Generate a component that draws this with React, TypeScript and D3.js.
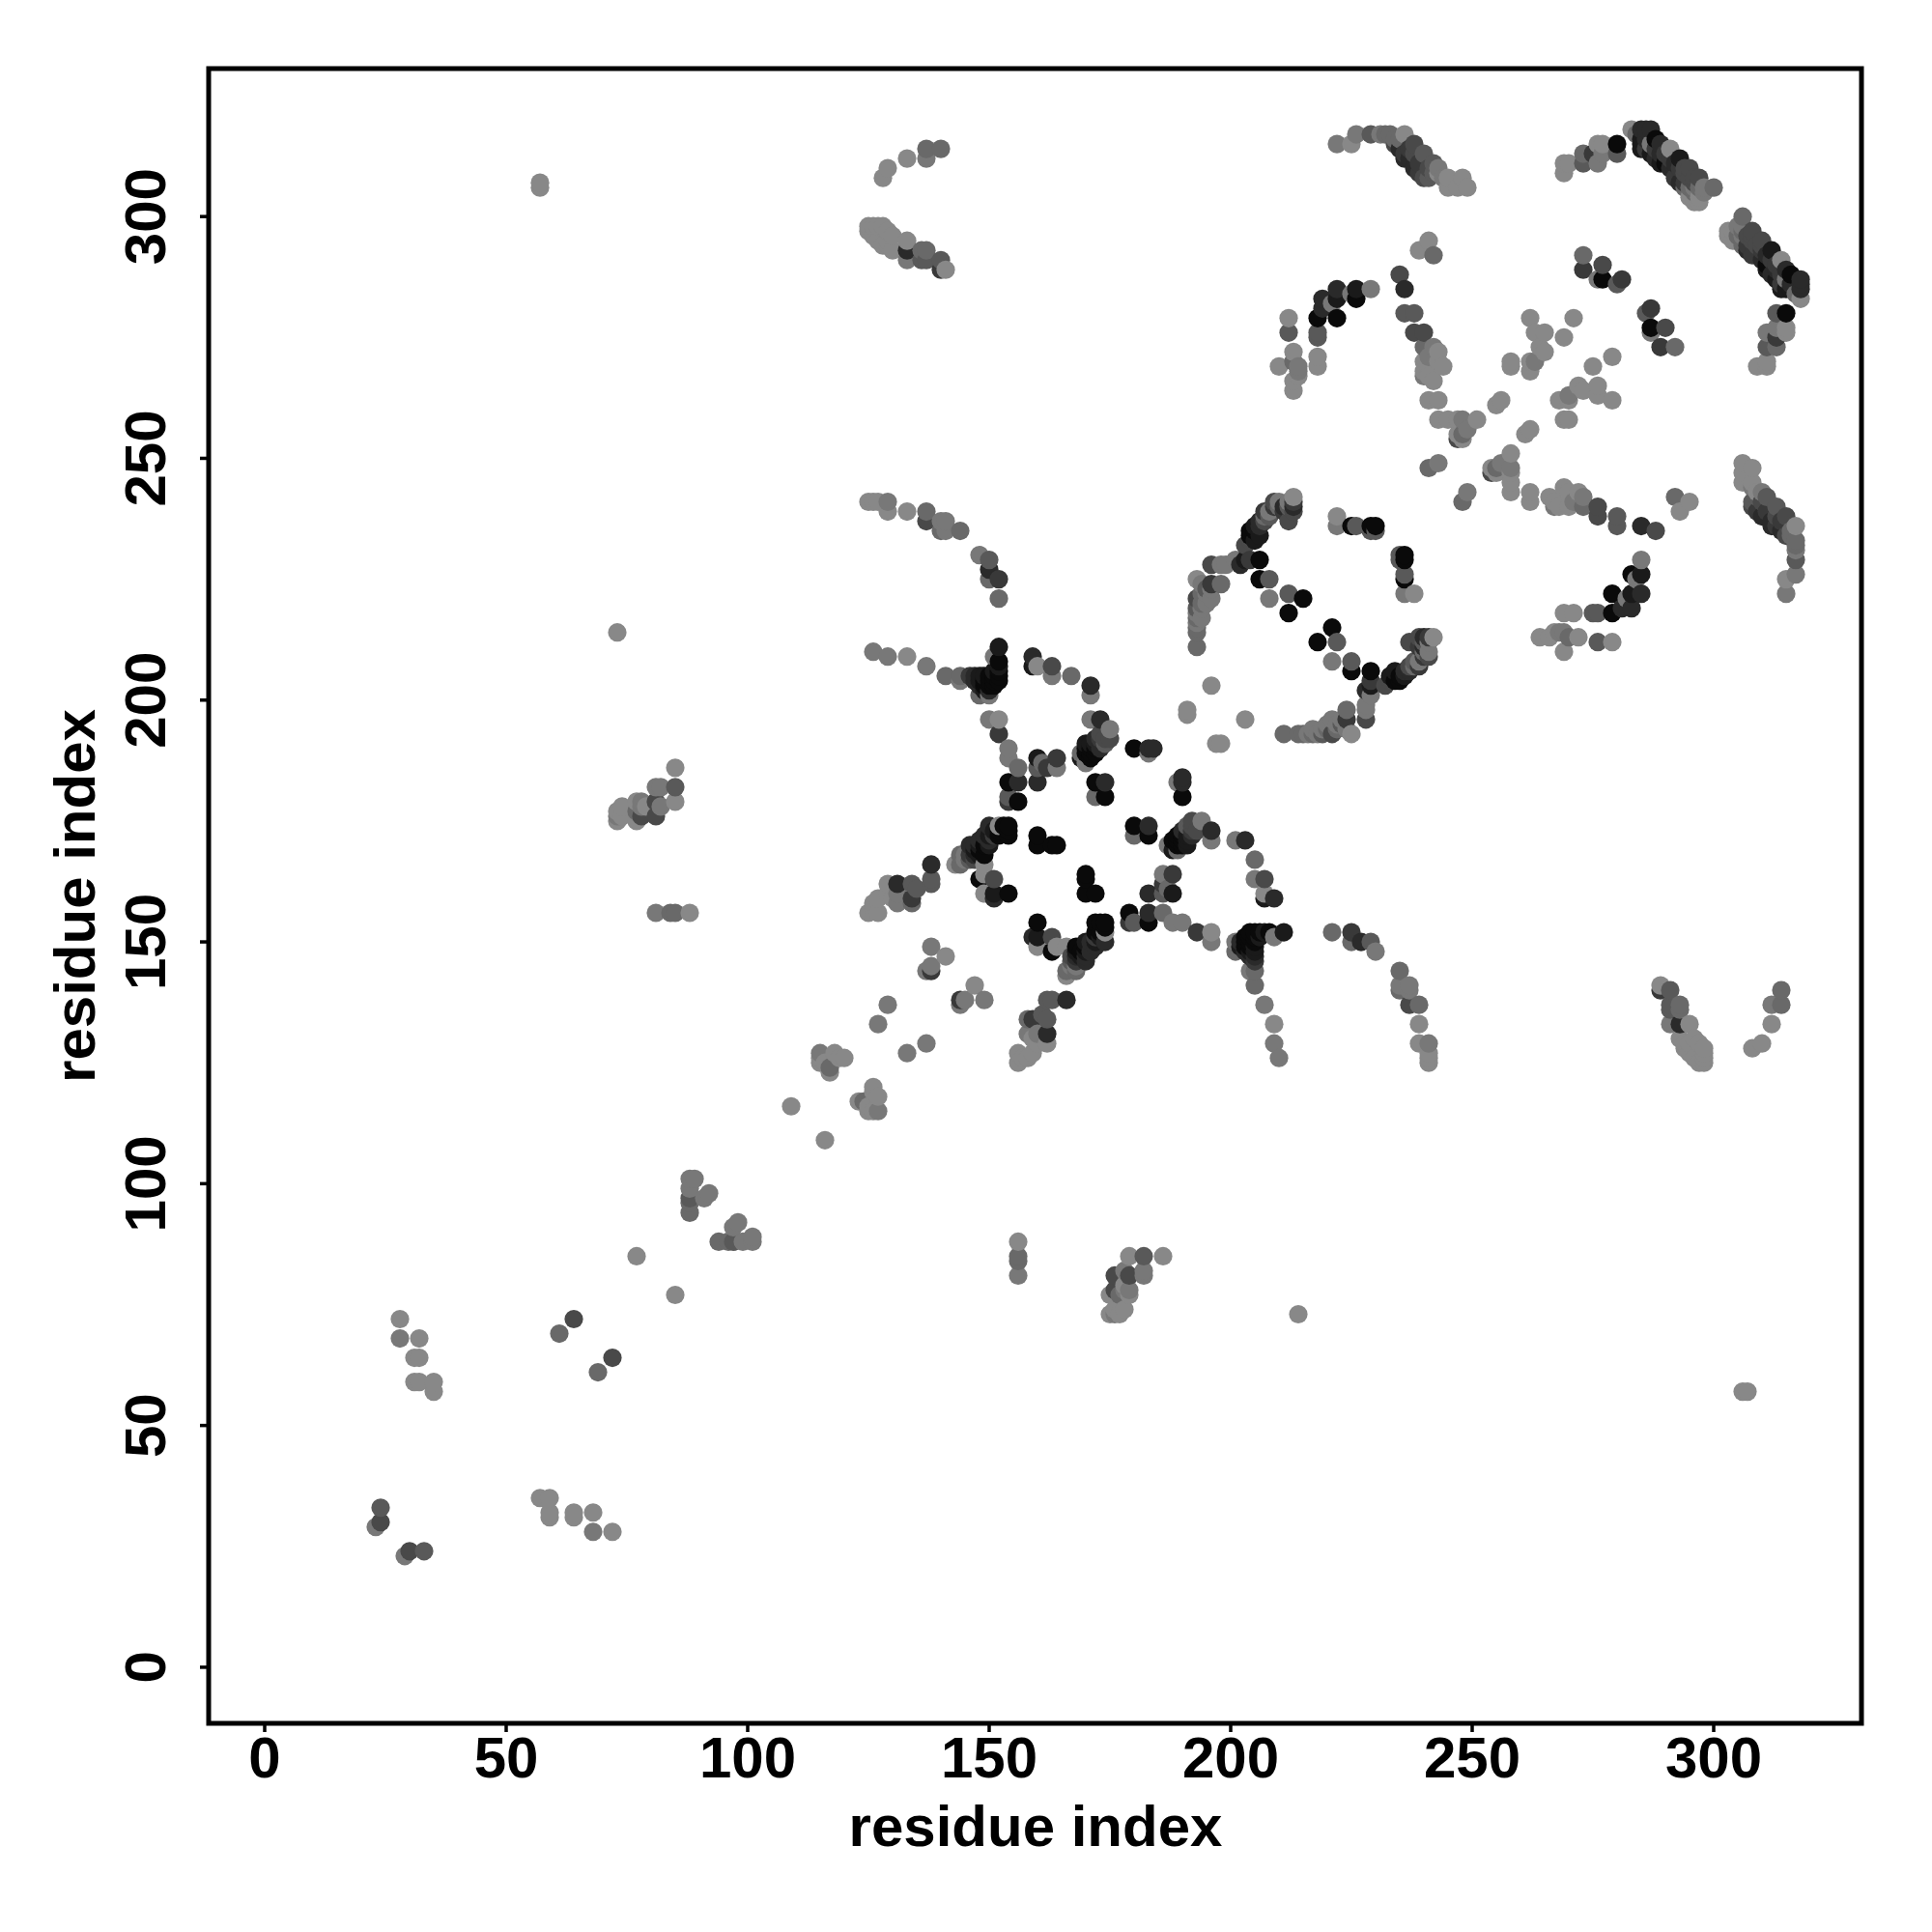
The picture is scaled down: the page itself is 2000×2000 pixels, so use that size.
import React from "react";
import * as d3 from "d3";

// Each contact is [residue i, residue j, strength 0..8]; the map is symmetric, drawn for (i,j) and (j,i).
const lowResidues = [
  [23,29,1],[24,30,4],[24,33,3],[28,68,1],[28,72,0],[31,59,0],[32,59,0],[31,64,0],[32,64,0],[32,68,0],[35,57,0],[35,59,0],
  [57,306,0],[57,307,0],[61,69,2],[64,72,4],[73,214,0],[77,85,0],
];
const clusterA = [
  [73,175,0],[73,176,1],[73,177,0],[74,176,0],[74,178,0],[77,175,0],[77,177,2],[77,179,0],[78,176,4],[78,178,1],[78,179,1],[79,178,0],
  [81,176,4],[81,179,4],[81,182,1],[82,178,1],[82,182,1],[85,179,0],[85,182,3],[85,186,0],
  [81,156,1],[84,156,2],[85,156,2],[88,156,0],
];
const diagonalLow = [
  [88,94,2],[88,96,2],[88,97,3],[88,99,1],[88,101,1],[89,101,1],[91,97,1],[92,98,1],
  [109,116,0],[115,125,0],[115,126,0],[115,127,1],[116,125,0],[117,123,0],[117,124,2],[118,127,0],[119,126,0],[120,126,0],
  [127,133,1],[129,137,1],
];
const clusterB = [
  [125,156,0],[126,157,0],[126,158,0],[127,156,0],[127,159,0],[129,160,0],[129,162,0],[130,159,0],[131,158,1],[131,160,1],[131,162,6],
  [134,158,2],[134,159,5],[134,162,3],[135,161,3],[138,162,3],[138,163,3],[138,166,6],
  [137,144,1],[138,144,5],[138,145,1],[138,149,1],[141,147,0],
];
const arcFar = [
  [128,308,0],[129,310,0],[133,312,0],[137,312,1],[137,314,2],[140,314,2],
  [125,297,0],[125,298,0],[126,296,0],[126,298,0],[127,295,0],[127,298,0],[128,294,0],[128,298,0],[129,294,0],[129,295,0],[129,297,0],[130,293,0],[130,296,0],
  [133,291,1],[133,293,6],[133,295,0],[136,291,3],[136,293,2],[137,291,3],[137,293,2],[140,289,5],[140,291,3],[141,289,0],
  [125,241,0],[126,241,0],[127,241,0],[129,239,0],[129,241,1],[133,239,0],[137,237,4],[137,239,2],[140,235,2],[140,237,1],[141,235,1],[141,237,1],
  [144,235,2],[148,230,1],[150,225,2],[150,227,6],[150,229,3],[152,225,5],[152,221,2],
  [126,210,1],[129,209,1],[133,209,0],
];
const clusterC = [
  [137,207,1],[141,205,2],[144,204,1],[144,205,2],[146,205,5],[147,204,6],[147,205,6],[148,201,2],[148,203,6],[148,204,7],[148,205,7],[149,202,7],[149,203,8],[149,204,8],[149,205,7],[150,201,1],[150,202,6],[150,203,8],[150,204,8],[150,205,8],
  [151,203,8],[151,204,8],[151,205,8],[151,206,7],[151,209,1],[152,204,8],[152,205,8],[152,206,8],[152,207,7],[152,208,8],[152,211,7],
  [159,207,7],[159,209,6],[160,207,0],[163,205,1],[163,207,4],[167,205,2],[171,201,1],[171,203,6],
  [150,196,1],[152,193,5],[152,196,0],[154,188,1],[154,190,1],[156,186,2],
  [154,179,5],[154,180,3],[154,183,8],[156,179,8],[156,183,6],
  [160,183,6],[160,186,3],[160,188,7],[161,187,2],[162,186,5],[164,186,1],[164,188,5],
  [169,188,7],[169,189,2],[170,187,1],[170,189,8],[170,190,8],[170,191,7],[171,188,8],[171,189,8],[171,190,8],[171,191,7],[172,189,8],[172,190,8],[172,191,7],[172,192,6],[173,190,6],[173,192,5],[173,193,4],[174,191,3],[174,192,4],[175,192,4],[175,194,1],[171,196,1],[173,196,6],
  [172,180,2],[172,183,8],[174,180,8],[174,183,6],[180,190,8],[183,189,1],[183,190,6],[184,190,6],
];
const clusterD = [
  [143,166,0],[144,166,2],[144,168,2],[145,167,1],[145,168,1],[146,167,3],[146,168,5],[146,170,6],[147,167,4],[147,168,6],[147,169,7],[147,170,6],[148,163,8],[148,168,7],[148,169,8],[148,170,7],[148,171,6],[149,160,0],[149,164,0],[149,166,0],[149,168,8],[149,170,8],[149,172,6],
  [150,170,7],[150,171,6],[150,172,7],[150,174,6],[151,159,6],[151,160,7],[151,163,4],[151,172,5],[151,173,7],[152,172,8],[152,173,8],[152,174,0],[153,174,8],[154,160,8],[154,172,8],[154,173,8],[154,174,8],
  [160,170,8],[160,172,8],[163,170,8],[164,170,8],
];
const arcMiddle = [
  [191,197,0],[191,198,0],[196,203,0],[193,211,2],[193,214,2],[193,215,2],[193,216,1],[193,217,2],[194,217,1],[193,218,1],[193,219,3],[194,219,1],[194,220,2],[193,221,4],[195,220,1],[196,221,1],[194,222,2],[195,222,1],[195,223,3],[193,225,0],[194,224,1],[196,223,1],[196,224,5],[198,224,2],
  [196,228,4],[198,228,1],[199,228,1],[201,229,1],[202,228,6],[203,229,7],[204,229,5],[206,229,8],[206,225,8],[208,225,3],
  [203,232,4],[204,233,4],[205,233,7],[204,234,8],[204,235,8],[205,235,8],[205,236,7],[206,234,7],[206,236,6],[206,237,6],[207,237,4],[207,238,2],[207,239,5],[208,238,3],[208,239,1],[209,240,5],[209,241,4],[210,240,2],[210,241,1],[211,239,5],[211,240,6],[212,237,4],[212,240,3],[212,241,1],[213,239,4],[213,240,6],[213,241,5],[213,242,0],
  [208,221,1],[212,222,3],[215,221,8],[212,218,8],
  [222,236,1],[222,238,0],[225,236,8],[226,236,3],[229,235,3],[229,236,8],[230,235,3],[230,236,8],
];
const arcUpper = [
  [222,315,1],[225,315,0],[226,317,1],[229,317,3],[231,317,1],[232,317,2],[233,317,2],[236,317,0],[234,316,2],[235,316,2],
  [234,315,4],[235,314,6],[236,312,6],[236,313,5],[237,312,6],[237,314,5],[238,310,6],[238,313,4],[238,315,4],[239,309,5],[239,311,5],[240,308,4],[240,313,3],[241,308,3],[241,310,4],[242,309,3],[242,311,3],[243,309,0],[243,310,1],[244,308,1],[245,306,0],[245,308,0],[247,306,0],[248,308,0],[249,306,0],
  [229,285,1],[226,283,8],[226,285,7],[225,284,1],[222,279,8],[222,283,7],[222,285,6],[221,282,1],[219,281,6],[219,283,6],[218,279,8],
  [218,275,3],[218,276,3],[218,269,0],[218,271,0],[212,276,3],[212,279,0],[213,272,0],[210,269,0],[214,269,1],[213,270,2],[214,268,1],[214,267,0],[213,266,0],[213,264,0],
  [235,288,4],[236,285,6],[236,280,3],[238,280,3],[238,276,4],[240,276,4],[239,293,0],[241,295,0],[242,292,2],
];
const helixCore = [
  [240,273,2],[240,270,0],[240,268,0],[240,267,1],[241,267,0],[241,271,1],[242,266,0],[242,273,1],[243,272,0],[243,270,0],[244,269,0],
  [241,262,0],[243,262,0],[243,258,0],[245,258,0],[247,258,0],[248,258,1],[251,258,0],[247,255,0],[247,254,4],[248,254,0],[249,256,1],[248,255,2],
  [241,248,2],[243,249,1],[255,261,0],[256,262,0],
  [262,279,0],[263,276,0],[265,276,0],[264,273,0],[265,272,0],[258,270,0],[258,269,0],[262,270,0],[262,268,0],[263,270,1],[271,279,0],[269,275,0],
];
const arcTop = [
  [269,309,0],[269,311,0],[270,311,0],[273,311,3],[273,313,2],[275,313,5],[276,311,1],[276,315,0],[277,313,1],[277,315,0],[280,313,3],[280,315,8],
  [283,318,0],[284,317,2],[285,314,7],[285,315,7],[285,316,7],[285,318,6],[286,314,5],[286,316,6],[286,318,6],[287,313,7],[287,315,1],[287,318,6],[288,312,6],[288,314,5],[288,316,8],
  [289,311,7],[289,313,6],[289,315,6],[290,311,8],[290,313,5],[291,310,6],[291,312,5],[291,314,0],[292,308,5],[292,311,6],[293,307,6],[293,310,5],[293,312,7],[294,306,2],[294,307,5],[294,309,4],[294,310,4],[295,304,0],[295,306,2],[295,308,4],[295,310,4],
  [296,303,0],[296,305,2],[296,306,1],[296,307,4],[296,308,4],[297,303,0],[297,304,0],[297,306,2],[297,308,4],[298,305,1],[298,306,1],[300,306,2],
  [273,289,5],[273,292,2],[276,287,1],[277,287,8],[277,290,4],[280,286,3],[281,287,5],
];

const contacts = [...lowResidues, ...clusterA, ...diagonalLow, ...clusterB, ...arcFar, ...clusterC, ...clusterD, ...arcMiddle, ...arcUpper, ...helixCore, ...arcTop];
const tickValues = [0, 50, 100, 150, 200, 250, 300];
const axisTitle = "residue index";

const points = contacts
  .flatMap(([i, j, w]) => [{ x: i, y: j, w }, { x: j, y: i, w }])
  .sort((a, b) => d3.ascending(a.x, b.x) || d3.ascending(a.y, b.y));

export default function App() {
  const x = d3.scaleLinear().domain([-11.6, 330.6]).range([216, 1927]);
  const y = d3.scaleLinear().domain([-11.6, 330.6]).range([1784, 71]);
  const gray = d3.scaleLinear<string>().domain([0, 8]).range(["#888888", "#0a0a0a"]);
  const font = { fontFamily: "'Liberation Sans', Arial, sans-serif", fontWeight: 700, fontSize: 60, fill: "#000" };
  return (
    <svg width={2000} height={2000} style={{ position: "absolute", left: 0, top: 0, display: "block", background: "#fff" }}>
      {points.map((p, k) => (
        <circle key={k} cx={x(p.x)} cy={y(p.y)} r={9.6} fill={gray(p.w)} />
      ))}
      <rect x={216} y={71} width={1711} height={1713} fill="none" stroke="#000" strokeWidth={5} />
      {tickValues.map((t) => (
        <g key={t}>
          <line x1={x(t)} x2={x(t)} y1={1786} y2={1793} stroke="#000" strokeWidth={3.5} />
          <text x={x(t)} y={1840} textAnchor="middle" {...font}>{t}</text>
          <line y1={y(t)} y2={y(t)} x1={207} x2={214} stroke="#000" strokeWidth={3.5} />
          <text transform={`translate(171,${y(t)}) rotate(-90)`} textAnchor="middle" {...font}>{t}</text>
        </g>
      ))}
      <text x={1072} y={1911} textAnchor="middle" {...font}>{axisTitle}</text>
      <text transform="translate(98,927.5) rotate(-90)" textAnchor="middle" {...font}>{axisTitle}</text>
    </svg>
  );
}
